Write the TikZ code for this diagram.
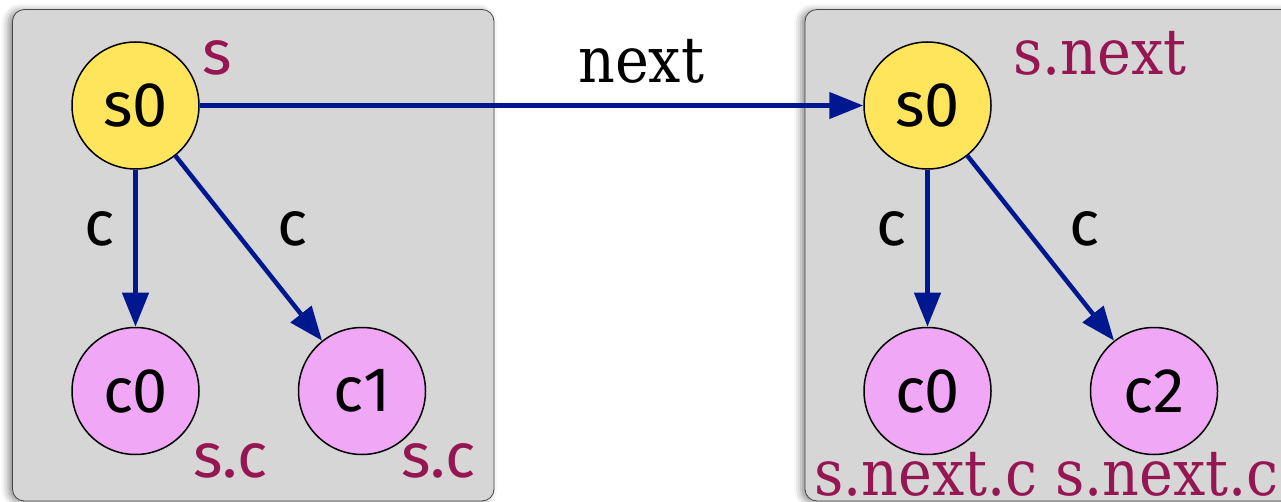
\documentclass[tikz,border=0pt]{standalone}
\usepackage{fontspec}
\setmainfont{Fira Sans}
\newfontfamily\slab{DejaVu Serif Condensed}
\usetikzlibrary{arrows.meta,shadows.blur}
\definecolor{boxgray}{RGB}{214,214,214}
\definecolor{boxline}{RGB}{70,70,70}
\definecolor{yel}{RGB}{255,229,92}
\definecolor{pinkc}{RGB}{240,168,246}
\definecolor{edgeblue}{RGB}{0,24,143}
\definecolor{maroon}{RGB}{150,22,82}
\tikzset{
  x=1pt, y=-1pt,
  panel/.style={draw=boxline, line width=0.8pt, fill=boxgray, rounded corners=12pt,
    blur shadow={shadow xshift=-4pt, shadow yshift=-1pt, shadow blur radius=7pt, shadow opacity=45}},
  obj/.style={circle, draw=black, line width=1.5pt, minimum size=127pt, inner sep=0pt,
    font=\fontsize{63}{70}\selectfont},
  snode/.style={obj, fill=yel},
  cnode/.style={obj, fill=pinkc},
  link/.style={draw=edgeblue, line width=4.5pt, -{Triangle[width=26pt,length=34pt]}},
  elabel/.style={anchor=base west, inner sep=0pt, font=\fontsize{63}{70}\selectfont},
  vlabel/.style={anchor=base west, inner sep=0pt, text=maroon, font=\fontsize{63}{70}\selectfont},
  vlabelserif/.style={anchor=base west, inner sep=0pt, text=maroon, font=\slab\fontsize{63.5}{70}\selectfont},
}
\begin{document}
\begin{tikzpicture}
\useasboundingbox (0,0) rectangle (1281,502);
% panels
\path[panel] (12.5,9.5) rectangle (494,501);
\path[panel] (805,9.5) rectangle (1300,501);
% left group
\node[snode] (ls0) at (135.5,105.5) {s0};
\node[cnode] (lc0) at (135.5,391) {c0};
\node[cnode] (lc1) at (362,391) {c1};
% right group
\node[snode] (rs0) at (927.5,105.5) {s0};
\node[cnode] (rc0) at (927.5,391) {c0};
\node[cnode] (rc2) at (1154,391) {c2};
% connectors
\draw[link] (ls0) -- (lc0);
\draw[link] (ls0) -- (lc1);
\draw[link] (rs0) -- (rc0);
\draw[link] (rs0) -- (rc2);
\draw[link] (ls0.east) -- (rs0.west);
% edge labels
\node[elabel] (lcl0) at (84,246) {c};
\node[elabel] (lcl1) at (277,246) {c};
\node[elabel] (rcl0) at (876,246) {c};
\node[elabel] (rcl1) at (1069,246) {c};
\node[anchor=base west, inner sep=0pt, font=\slab\fontsize{63.5}{70}\selectfont] (nextl) at (578,83) {next};
% value labels
\node[vlabel] (ls) at (202,75) {s};
\node[vlabel] (lsc0) at (193,477) {s.c};
\node[vlabel] (lsc1) at (401,477) {s.c};
\node[vlabelserif] (rsn) at (1013,75) {s.next};
\node[vlabelserif] (rsnc0) at (814,495) {s.next.c};
\node[vlabelserif] (rsnc1) at (1055,495) {s.next.c};
\end{tikzpicture}
\end{document}
